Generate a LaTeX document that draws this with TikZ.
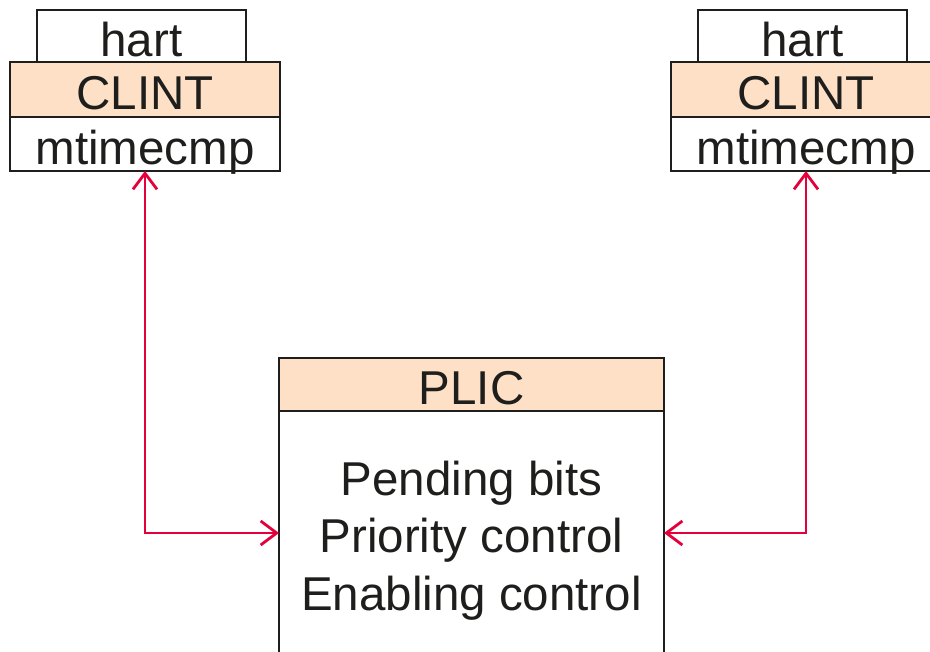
\documentclass[tikz,border=0pt]{standalone}
\usepackage{fontspec}
\setmainfont{Liberation Sans}
\usepackage{tikz}
\usetikzlibrary{arrows.meta,positioning}
\definecolor{regPeach}{RGB}{253,224,198}
\definecolor{irqRed}{RGB}{228,0,58}
\definecolor{inkBlack}{RGB}{30,30,28}
\tikzset{
  cellBox/.style  = {rectangle, draw=inkBlack, line width=2.4pt, fill=#1,
                     inner sep=0pt, outer sep=0pt, text=inkBlack,
                     text height=41pt, text depth=0pt,
                     font=\fontsize{47.5}{57.5}\selectfont},
  cellBox/.default = white,
  bodyText/.style = {align=center, inner sep=0pt, text=inkBlack,
                     font=\fontsize{47.5}{57.5}\selectfont},
  irqArrow/.style = {{Straight Barb[length=16pt,width=24pt]}-{Straight Barb[length=16pt,width=24pt]},
                     line width=2.8pt, draw=irqRed},
}
\begin{document}
\begin{tikzpicture}[x=1pt,y=-1pt]
  \useasboundingbox (0,0) rectangle (930,652);
  \clip (0,0) rectangle (930,652);
  % left hart
  \node[cellBox=regPeach, minimum width=270pt, minimum height=55pt] (clintL) at (145,89.5) {CLINT};
  \node[cellBox, minimum width=209pt, minimum height=52pt, above=0pt of clintL, xshift=-3.5pt] (hartL) {hart};
  \node[cellBox, minimum width=270pt, minimum height=54pt, below=0pt of clintL] (mtL) {mtimecmp};
  % right hart
  \node[cellBox=regPeach, minimum width=270pt, minimum height=55pt] (clintR) at (806,89.5) {CLINT};
  \node[cellBox, minimum width=209pt, minimum height=52pt, above=0pt of clintR, xshift=-3.5pt] (hartR) {hart};
  \node[cellBox, minimum width=270pt, minimum height=54pt, below=0pt of clintR] (mtR) {mtimecmp};
  % PLIC
  \node[cellBox=regPeach, minimum width=385pt, minimum height=53pt] (plicHead) at (471.5,384.5) {PLIC};
  \node[cellBox, minimum width=385pt, minimum height=244pt, below=0pt of plicHead] (plicBody) {};
  \node[bodyText] (plicText) at ([yshift=-7.5pt]plicBody.center)
      {Pending bits\\Priority control\\Enabling control};
  \draw[irqArrow] (mtL.south) |- (plicBody.west);
  \draw[irqArrow] (mtR.south) |- (plicBody.east);
\end{tikzpicture}
\end{document}
